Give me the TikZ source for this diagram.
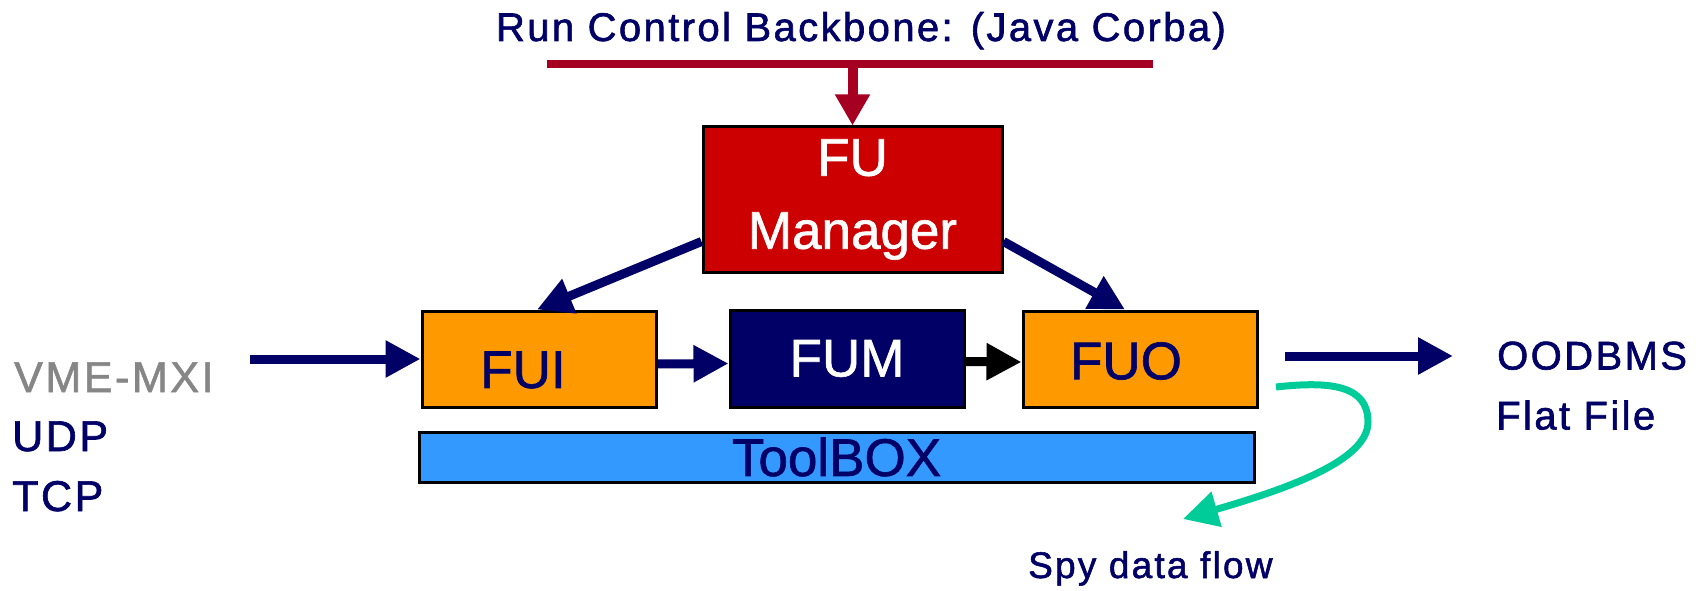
\documentclass[tikz,border=0pt]{standalone}
\usepackage{fontspec}
\usepackage{tikz}
\usepackage{xcolor}
\usetikzlibrary{arrows.meta}
\setmainfont{Liberation Sans}[FakeBold=1.2]
\newfontfamily\spacedsf[LetterSpace=6,FakeBold=1.5]{Liberation Sans}
\definecolor{navy}{HTML}{000066}
\definecolor{rcred}{HTML}{A50021}
\definecolor{mgrred}{HTML}{CC0000}
\definecolor{fuorange}{HTML}{FF9900}
\definecolor{toolblue}{HTML}{3399FF}
\definecolor{spygreen}{HTML}{00CC99}
\definecolor{srcgray}{HTML}{868686}
\begin{document}
\begin{tikzpicture}[x=1pt,y=-1pt]
\tikzstyle{every node}+=[inner sep=0pt]
\tikzstyle{unit}=[rectangle, draw=black, line width=3pt, font=\fontsize{53}{73}\selectfont]
\tikzstyle{caption}=[anchor=base west, text=navy, font=\spacedsf\fontsize{40}{48}\selectfont]
\tikzstyle{flow}=[draw=navy, line width=9pt, -{Triangle[length=35pt,width=35pt]}]
\useasboundingbox (0,0) rectangle (1703,591);
\node[anchor=base, text=navy, font=\spacedsf\fontsize{40}{48}\selectfont] (title) at (861,41) {Run Control Backbone: (Java Corba)};
\coordinate (bbL) at (547,64.5);
\coordinate (bbR) at (1153,64.5);
\coordinate (bbtap) at (852.5,64.5);
\draw[rcred, line width=8pt] (bbL) -- (bbR);
\node[unit, fill=mgrred, text=white, align=center, minimum width=299pt, minimum height=145pt] (mgr) at (852.5,199.5) {FU\\Manager};
\node[unit, fill=fuorange, minimum width=234pt, minimum height=96pt,
  label={[text=navy, font=\fontsize{53}{60}\selectfont, xshift=-16pt, yshift=-11pt]center:FUI}] (fui) at (539,359) {};
\node[unit, fill=navy, text=white, minimum width=234pt, minimum height=97pt] (fum) at (847,358.5) {FUM};
\node[unit, fill=fuorange, minimum width=234pt, minimum height=96pt,
  label={[text=navy, font=\fontsize{53}{60}\selectfont, xshift=-14pt, yshift=-2pt]center:FUO}] (fuo) at (1140,359) {};
\node[unit, fill=toolblue, text=navy, minimum width=835pt, minimum height=50pt] (toolbox) at (836.5,457) {ToolBOX};
\draw[rcred, line width=10pt, -{Triangle[length=31pt,width=33pt]}] (bbtap) -- (mgr.north);
\draw[flow] ([yshift=-42pt]mgr.west) -- ([xshift=-2pt]fui.north);
\draw[flow] ([yshift=-42pt]mgr.east) -- ([xshift=-15pt]fuo.north);
\coordinate (srcin) at (250,359);
\draw[flow] (srcin) -- (fui.west);
\draw[flow] ([yshift=-5pt]fui.east) -- ([yshift=-5pt]fum.west);
\draw[flow, draw=black] ([yshift=-3pt]fum.east) -- ([yshift=-3pt]fuo.west);
\coordinate (dbA) at (1285,356);
\coordinate (dbB) at (1453,356);
\draw[flow] (dbA) -- (dbB);
\coordinate (spyA) at (1276,387);
\coordinate (spyB) at (1183,519);
\draw[spygreen, line width=7pt, -{Triangle[length=35pt,width=35pt]}] (spyA) .. controls (1330,381) and (1368,385) .. (1368,422) .. controls (1368,460) and (1290,488) .. (spyB);
\node[caption, text=srcgray, font=\spacedsf\fontsize{43}{50}\selectfont] (vme) at (14,392) {VME-MXI};
\node[caption, font=\spacedsf\fontsize{43}{50}\selectfont] (udp) at (12,451) {UDP};
\node[caption, font=\spacedsf\fontsize{43}{50}\selectfont] (tcp) at (12,511) {TCP};
\node[caption] (oodb) at (1497,369.5) {OODBMS};
\node[caption] (flat) at (1496,429.5) {Flat File};
\node[caption, font=\spacedsf\fontsize{37}{44}\selectfont] (spy) at (1028,578) {Spy data flow};
\end{tikzpicture}
\end{document}
